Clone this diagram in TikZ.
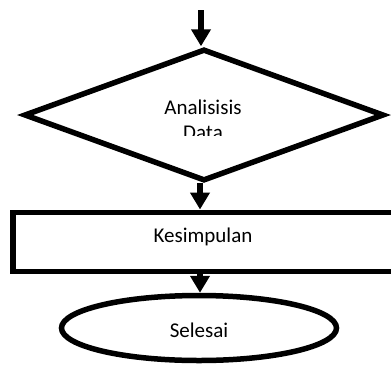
\documentclass[tikz,border=0pt]{standalone}
\usepackage{fontspec}
\setmainfont{Carlito}
\usetikzlibrary{arrows.meta,shapes.geometric}
\tikzset{
  shapeline/.style={draw=black, line width=5.5pt, fill=white},
  flowarrow/.style={draw=black, line width=5.5pt, -{Triangle[width=19pt,length=17pt]}},
  lbl/.style={font=\fontsize{21}{25}\selectfont, inner sep=0pt, anchor=base}
}
\begin{document}
\begin{tikzpicture}[x=1pt,y=-1pt]
\useasboundingbox (0,0) rectangle (391,365);
\clip (0,0) rectangle (391,365);
% shapes
\node[shapeline, diamond, minimum width=360pt, minimum height=132pt, inner sep=0pt, miter limit=10] (dia) at (204,115) {};
\node[shapeline, rectangle, minimum width=400pt, minimum height=59pt, inner sep=0pt, anchor=north west] (box) at (10,209.5) {};
\node[shapeline, ellipse, minimum width=275pt, minimum height=65pt, inner sep=0pt] (end) at (199,328) {};
% start point
\coordinate (start) at (201,10);
\coordinate (d2) at (200,183);
% connectors
\draw[flowarrow] (start) -- (start |- dia.north);
\draw[flowarrow] (d2) -- (d2 |- box.north);
\draw[flowarrow] (box.south -| d2) -- (d2 |- end.north);
% texts
\node[lbl] (ana) at (203,114) {Analisisis};
\begin{scope}
\clip (140,100) rectangle (270,135);
\node[lbl] (data) at (203,139.5) {Data};
\end{scope}
\node[lbl] (kes) at (203,242) {Kesimpulan};
\node[lbl] (sel) at (199,337) {Selesai};
\end{tikzpicture}
\end{document}
